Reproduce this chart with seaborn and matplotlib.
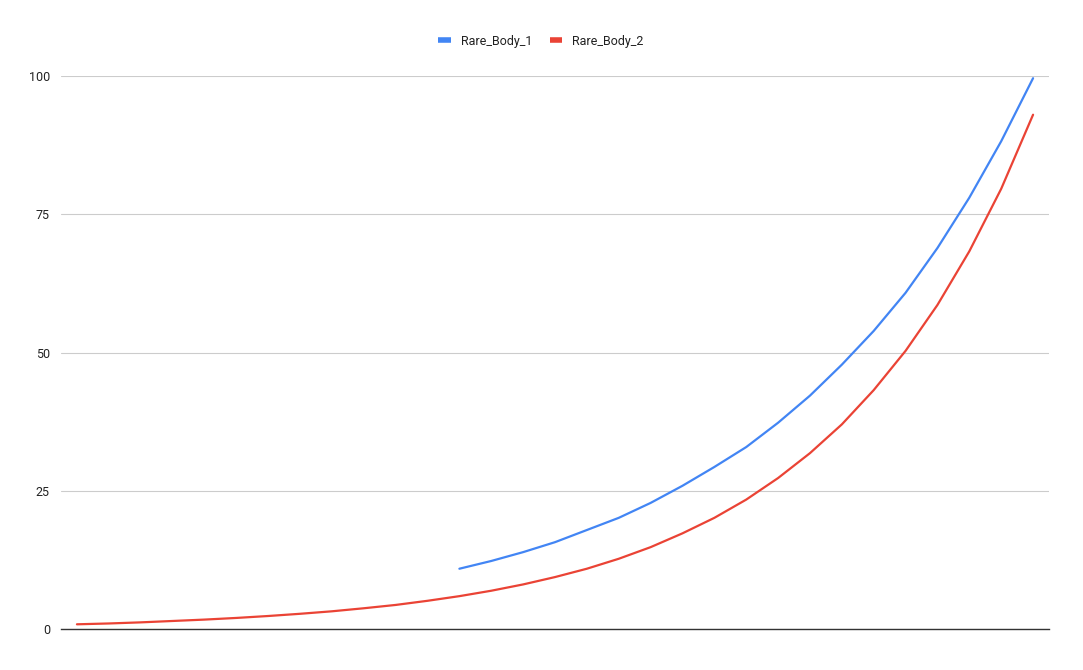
import numpy as np
import pandas as pd
import matplotlib
matplotlib.use("Agg")
import matplotlib.pyplot as plt
import seaborn as sns

# Series values (one per category step); Rare_Body_1 starts at step 12
steps = list(range(31))
rare_body_1 = [np.nan] * 12 + [10.9, 12.3, 13.9, 15.7, 17.9, 20.1, 22.8, 25.9, 29.3,
                               32.9, 37.3, 42.2, 47.8, 53.9, 60.8, 68.9, 78.0, 88.2, 99.6]
rare_body_2 = [0.85, 1.0, 1.2, 1.45, 1.7, 2.0, 2.35, 2.75, 3.2, 3.75, 4.35, 5.1,
               5.94, 6.92, 8.06, 9.39, 10.9, 12.7, 14.8, 17.3, 20.1, 23.4, 27.3, 31.8,
               37.0, 43.2, 50.3, 58.6, 68.3, 79.6, 93.0]
series_names = ["Rare_Body_1", "Rare_Body_2"]
y_ticks = [0, 25, 50, 75, 100]

colors = {"Rare_Body_1": "#4285F4", "Rare_Body_2": "#EA4335"}

df = pd.DataFrame({"step": steps, series_names[0]: rare_body_1, series_names[1]: rare_body_2})
long = df.melt(id_vars="step", var_name="series", value_name="value").dropna()

sns.set_theme(style="white")
plt.rcParams["font.family"] = ["Roboto", "DejaVu Sans"]

fig = plt.figure(figsize=(10.83, 6.70), dpi=100)
W, H = 1083, 670
ax = fig.add_axes([61 / W, (H - 629) / H, (1049 - 61) / W, (629 - 76) / H])

sns.lineplot(data=long, x="step", y="value", hue="series", palette=colors,
             hue_order=series_names, linewidth=1.6, ax=ax, legend=False)

ax.set_xlim(-0.5, 30.5)
ax.set_ylim(0, 100)
ax.set_yticks(y_ticks)
ax.set_yticklabels([str(t) for t in y_ticks], fontsize=9, color="#222222")
ax.set_xticks([])
ax.set_xlabel("")
ax.set_ylabel("")
ax.tick_params(axis="y", length=0, pad=8)
ax.grid(axis="y", color="#cccccc", linewidth=0.8)
for side in ["top", "right", "left"]:
    ax.spines[side].set_visible(False)
ax.spines["bottom"].set_color("#333333")
ax.spines["bottom"].set_linewidth(1.0)
ax.spines["bottom"].set_zorder(3)
for line in ax.lines:
    line.set_clip_on(False)

handles = [plt.Line2D([0], [0], color=colors[n], linewidth=4, solid_capstyle="butt") for n in series_names]
fig.legend(handles, series_names, loc="center", bbox_to_anchor=(541 / W, 1 - 41 / H),
           ncol=2, frameon=False, fontsize=9, handlelength=1.0, handletextpad=0.8,
           columnspacing=1.4, labelcolor="#222222")

fig.savefig("out.png", dpi=100, facecolor="white")
